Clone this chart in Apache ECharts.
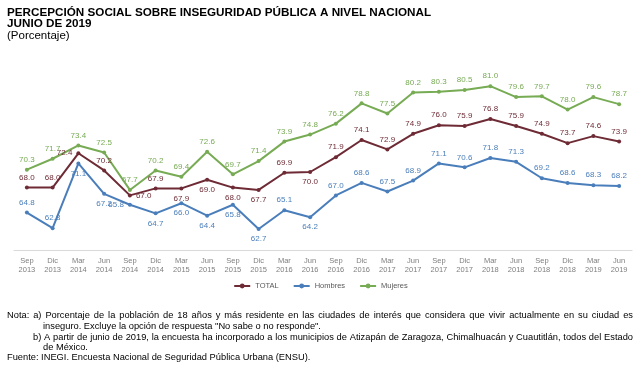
<!DOCTYPE html>
<html>
<head>
<meta charset="utf-8">
<script src="https://cdn.jsdelivr.net/npm/echarts@6/dist/echarts.min.js"></script>
<style>
  html, body { margin: 0; padding: 0; background: #fff; }
  #chart { width: 641px; height: 375px; }
</style>
</head>
<body>
<div id="chart"></div>
<script>
// trimestres
var periodos = ['Sep\n2013', 'Dic\n2013', 'Mar\n2014', 'Jun\n2014', 'Sep\n2014', 'Dic\n2014',
  'Mar\n2015', 'Jun\n2015', 'Sep\n2015', 'Dic\n2015', 'Mar\n2016', 'Jun\n2016',
  'Sep\n2016', 'Dic\n2016', 'Mar\n2017', 'Jun\n2017', 'Sep\n2017', 'Dic\n2017',
  'Mar\n2018', 'Jun\n2018', 'Sep\n2018', 'Dic\n2018', 'Mar\n2019', 'Jun\n2019'];

var total = [68.0, 68.0, 72.4, 70.2, 67.0, 67.9, 67.9, 69.0, 68.0, 67.7, 69.9, 70.0,
  71.9, 74.1, 72.9, 74.9, 76.0, 75.9, 76.8, 75.9, 74.9, 73.7, 74.6, 73.9];
var hombres = [64.8, 62.8, 71.1, 67.2, 65.8, 64.7, 66.0, 64.4, 65.8, 62.7, 65.1, 64.2,
  67.0, 68.6, 67.5, 68.9, 71.1, 70.6, 71.8, 71.3, 69.2, 68.6, 68.3, 68.2];
var mujeres = [70.3, 71.7, 73.4, 72.5, 67.7, 70.2, 69.4, 72.6, 69.7, 71.4, 73.9, 74.8,
  76.2, 78.8, 77.5, 80.2, 80.3, 80.5, 81.0, 79.6, 79.7, 78.0, 79.6, 78.7];

// donde va la etiqueta de cada punto (t = arriba, b = abajo, l = izq, r = der)
var posTotal = 'ttltrtbbbbtbtttttttttttt';
var posHombres = 'ttbblbbbbbtbtttttttttttt';

var colTotal = '#6e2b35', colHombres = '#4a7ebb', colMujeres = '#77ab54';
var mapaPos = { t: 'top', b: 'bottom', l: 'left', r: 'right' };

function armar(vals, pos) {
  return vals.map(function (v, i) {
    if (!pos) return v;
    return { value: v, label: { position: mapaPos[pos[i]] } };
  });
}

function serie(nombre, vals, pos, color) {
  return {
    name: nombre,
    type: 'line',
    data: armar(vals, pos),
    symbol: 'circle',
    symbolSize: 4,
    lineStyle: { color: color, width: 2 },
    itemStyle: { color: color },
    label: {
      show: true,
      position: 'top',
      distance: 4,
      color: color,
      fontSize: 8,
      fontFamily: 'Liberation Sans',
      formatter: function (p) { return p.value.toFixed(1); }
    }
  };
}

var notaFont = '9.3px "Liberation Sans"';
var ctx = document.createElement('canvas').getContext('2d');
ctx.font = notaFont;

// texto justificado: una palabra por elemento, repartiendo el espacio sobrante
function justificar(texto, x0, x1, top) {
  var palabras = texto.split(' ');
  var anchos = palabras.map(function (p) { return ctx.measureText(p).width; });
  var suma = anchos.reduce(function (a, b) { return a + b; }, 0);
  var hueco = (x1 - x0 - suma) / (palabras.length - 1);
  var x = x0, out = [];
  palabras.forEach(function (p, i) {
    out.push({ type: 'text', left: x, top: top, style: { text: p, font: notaFont, fill: '#000' } });
    x += anchos[i] + hueco;
  });
  return out;
}

function linea(texto, x0, top) {
  return { type: 'text', left: x0, top: top, style: { text: texto, font: notaFont, fill: '#000' } };
}

var notas = [].concat(
  justificar('Nota: a) Porcentaje de la población de 18 años y más residente en las ciudades de interés que considera que vivir actualmente en su ciudad es', 7, 633, 311),
  [linea('inseguro. Excluye la opción de respuesta "No sabe o no responde".', 43, 322)],
  justificar('b) A partir de junio de 2019, la encuesta ha incorporado a los municipios de Atizapán de Zaragoza, Chimalhuacán y Cuautitlán, todos del Estado', 33, 633, 333),
  [linea('de México.', 43, 343),
   linea('Fuente: INEGI. Encuesta Nacional de Seguridad Pública Urbana (ENSU).', 7, 353)]
);

var myChart = echarts.init(document.getElementById('chart'));
var option = {
  backgroundColor: '#fff',
  animation: false,
  title: {
    text: 'PERCEPCIÓN SOCIAL SOBRE INSEGURIDAD PÚBLICA A NIVEL NACIONAL\nJUNIO DE 2019',
    subtext: '(Porcentaje)',
    left: 7,
    top: 8,
    padding: 0,
    itemGap: 0,
    textStyle: { fontFamily: 'Liberation Sans', fontSize: 11.7, fontWeight: 'bold', color: '#000', lineHeight: 10.5 },
    subtextStyle: { fontFamily: 'Liberation Sans', fontSize: 11.5, color: '#000', lineHeight: 10 }
  },
  legend: {
    top: 277,
    left: 'center',
    itemWidth: 16,
    itemHeight: 6,
    itemGap: 14,
    textStyle: { fontSize: 7.5, color: '#595959', fontFamily: 'Liberation Sans' },
    data: ['TOTAL', 'Hombres', 'Mujeres']
  },
  grid: { left: 14, right: 9, top: 55, bottom: 125 },
  xAxis: {
    type: 'category',
    data: periodos,
    boundaryGap: true,
    axisLine: { lineStyle: { color: '#d9d9d9' } },
    axisTick: { show: false },
    axisLabel: { color: '#7f7f7f', fontSize: 7.5, lineHeight: 9.5, margin: 6, interval: 0, fontFamily: 'Liberation Sans' }
  },
  yAxis: {
    type: 'value',
    min: 60,
    max: 85,
    show: false
  },
  graphic: notas,
  series: [
    serie('TOTAL', total, posTotal, colTotal),
    serie('Hombres', hombres, posHombres, colHombres),
    serie('Mujeres', mujeres, null, colMujeres)
  ]
};
option && myChart.setOption(option);
</script>
</body>
</html>
